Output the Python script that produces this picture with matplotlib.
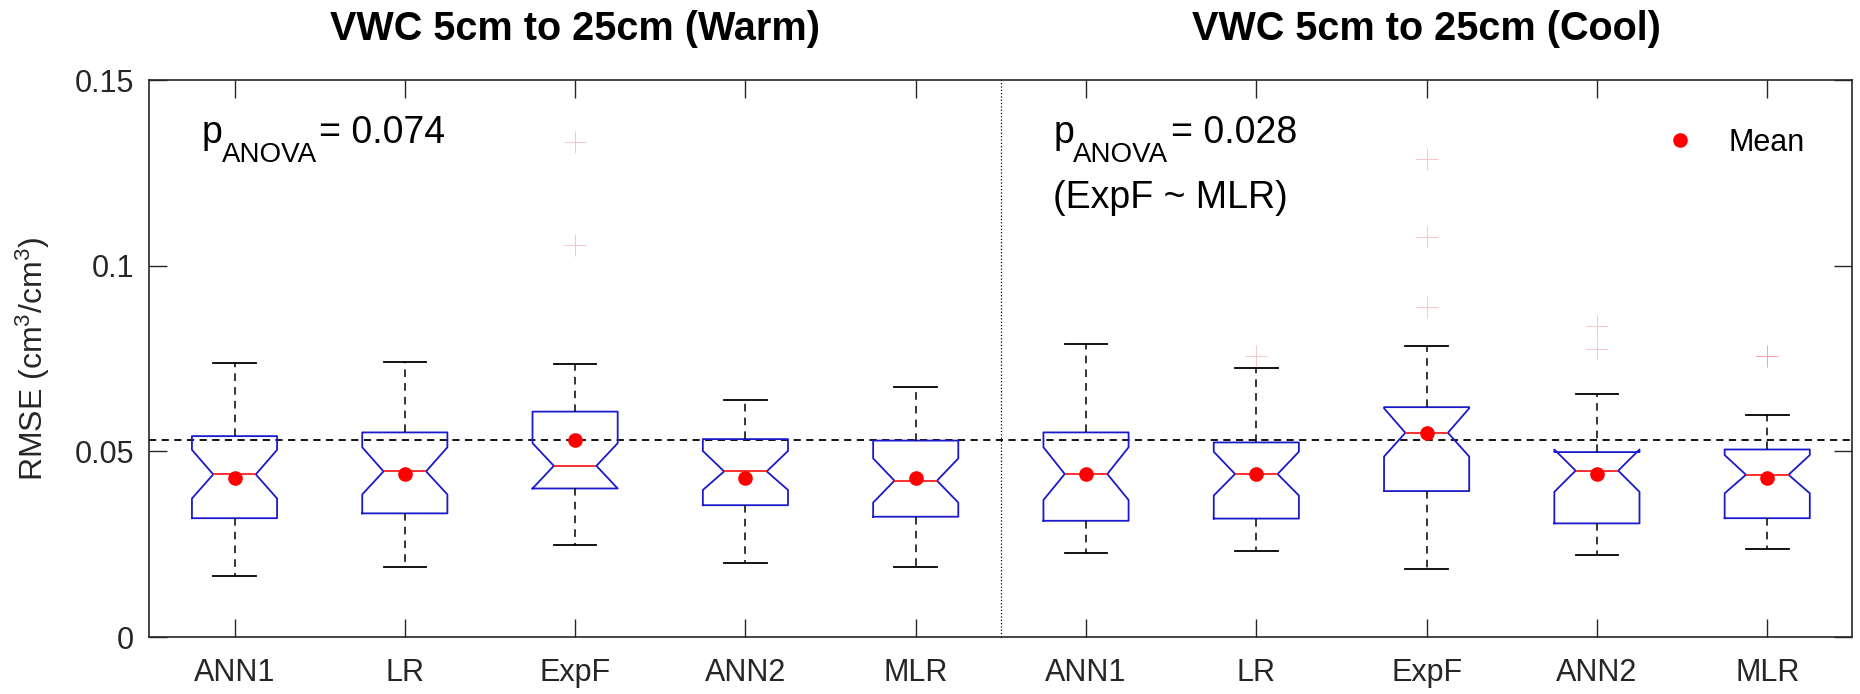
import matplotlib
matplotlib.use('Agg')
import matplotlib.pyplot as plt
import matplotlib.transforms as mtransforms

plt.rcParams['font.family'] = ['Liberation Sans', 'DejaVu Sans']
plt.rcParams['mathtext.fontset'] = 'custom'
plt.rcParams['mathtext.rm'] = 'Liberation Sans'
plt.rcParams['mathtext.it'] = 'Liberation Sans'
plt.rcParams['mathtext.default'] = 'regular'

models = ['ANN1', 'LR', 'ExpF', 'ANN2', 'MLR']

# warm season RMSE box statistics
warm_whishi = [0.0737, 0.0741, 0.0736, 0.0637, 0.0673]
warm_q3 = [0.0541, 0.0551, 0.0607, 0.0533, 0.0529]
warm_cihi = [0.0504, 0.0511, 0.0522, 0.0501, 0.0481]
warm_med = [0.0438, 0.0446, 0.0461, 0.0446, 0.0421]
warm_mean = [0.0429, 0.0439, 0.0531, 0.0429, 0.0429]
warm_cilo = [0.0373, 0.0384, 0.0400, 0.0396, 0.0362]
warm_q1 = [0.0320, 0.0333, 0.0400, 0.0355, 0.0324]
warm_whislo = [0.0164, 0.0188, 0.0248, 0.0200, 0.0188]
warm_fliers = [[], [], [0.1056, 0.1334], [], []]

# cool season RMSE box statistics
cool_whishi = [0.0789, 0.0724, 0.0784, 0.0654, 0.0597]
cool_q3 = [0.0551, 0.0524, 0.0619, 0.0498, 0.0505]
cool_cihi = [0.0511, 0.0499, 0.0616, 0.0505, 0.0490]
cool_med = [0.0439, 0.0439, 0.0550, 0.0448, 0.0437]
cool_mean = [0.0439, 0.0439, 0.0550, 0.0439, 0.0429]
cool_cilo = [0.0369, 0.0381, 0.0486, 0.0391, 0.0387]
cool_q1 = [0.0313, 0.0319, 0.0393, 0.0306, 0.0320]
cool_whislo = [0.0225, 0.0232, 0.0183, 0.0220, 0.0237]
cool_fliers = [[], [0.0757], [0.0890, 0.1078, 0.1286], [0.0775, 0.0838], [0.0756, 0.0758]]

ref_line = 0.053
p_warm = '0.074'
p_cool = '0.028'


def make_stats(whishi, q3, cihi, med, mean, cilo, q1, whislo, fliers):
    stats = []
    for i in range(len(models)):
        stats.append({'label': models[i], 'whishi': whishi[i], 'q3': q3[i],
                      'cihi': cihi[i], 'med': med[i], 'mean': mean[i],
                      'cilo': cilo[i], 'q1': q1[i], 'whislo': whislo[i],
                      'fliers': fliers[i]})
    return stats


def p_label(ax, x0, value):
    # p with a big, low subscript like the MATLAB original
    ax.text(x0, 0.133, 'p', fontsize=27, va='baseline')
    ax.text(x0 + 0.1174, 0.1280, 'ANOVA', fontsize=20, va='baseline')
    ax.text(x0 + 0.69, 0.133, '= ' + value, fontsize=27, va='baseline')


stats = make_stats(warm_whishi, warm_q3, warm_cihi, warm_med, warm_mean,
                   warm_cilo, warm_q1, warm_whislo, warm_fliers)
stats += make_stats(cool_whishi, cool_q3, cool_cihi, cool_med, cool_mean,
                    cool_cilo, cool_q1, cool_whislo, cool_fliers)
positions = list(range(1, len(stats) + 1))

fig = plt.figure(figsize=(18.6, 6.94), dpi=100)
ax = fig.add_axes([0.0803, 0.0821, 0.9156, 0.8026])

ax.bxp(stats, positions=positions, widths=0.5, shownotches=True, showmeans=True,
       boxprops=dict(color='#1a1acc', linewidth=1.3),
       medianprops=dict(color='#ff2020', linewidth=1.3),
       whiskerprops=dict(color='black', linewidth=1.1, linestyle=(0, (5, 4))),
       capprops=dict(color='black', linewidth=1.3),
       meanprops=dict(marker='o', markerfacecolor='red', markeredgecolor='red',
                      markersize=9.5),
       flierprops=dict(marker='+', markeredgecolor='#f07070', markersize=16,
                       markeredgewidth=0.7, alpha=0.4))

ax.axhline(ref_line, color='black', linewidth=1.3, linestyle=(0, (4, 3)), zorder=1)
ax.axvline(5.5, color='black', linewidth=0.9, linestyle=':')

ax.set_xlim(0.5, 10.5)
ax.set_ylim(0, 0.15)
ax.set_yticks([0, 0.05, 0.1, 0.15])
ax.set_yticklabels(['0', '0.05', '0.1', '0.15'])
ax.set_xticks(positions)
ax.set_xticklabels(models + models)

for side in ax.spines.values():
    side.set_color('#262626')
    side.set_linewidth(1.2)
ax.tick_params(direction='in', length=13, width=1, top=True, right=True,
               labelsize=22, colors='#262626')
ax.tick_params(axis='x', pad=15)
ax.tick_params(axis='y', pad=11)

ax.set_ylabel(r'RMSE (cm$^3$/cm$^3$)', fontsize=23, color='#262626')
ax.yaxis.set_label_coords(-0.057, 0.5)

# panel titles above each half
trans = mtransforms.blended_transform_factory(ax.transData, fig.transFigure)
ax.text(3, 0.958, 'VWC 5cm to 25cm (Warm)', transform=trans, ha='center',
        va='center', fontsize=28.5, fontweight='bold')
ax.text(8, 0.958, 'VWC 5cm to 25cm (Cool)', transform=trans, ha='center',
        va='center', fontsize=28.5, fontweight='bold')

p_label(ax, 0.808, p_warm)
p_label(ax, 5.808, p_cool)
ax.text(5.808, 0.1155, '(ExpF ~ MLR)', fontsize=27, va='baseline')

mean_handle, = ax.plot([], [], 'o', color='red', markersize=9.5, label='Mean')
ax.legend(handles=[mean_handle], loc='center left', bbox_to_anchor=(0.8898, 0.8878),
          frameon=False, fontsize=22, handlelength=1.0, handletextpad=1.1,
          borderpad=0, borderaxespad=0)

fig.savefig('out.png', dpi=100)
